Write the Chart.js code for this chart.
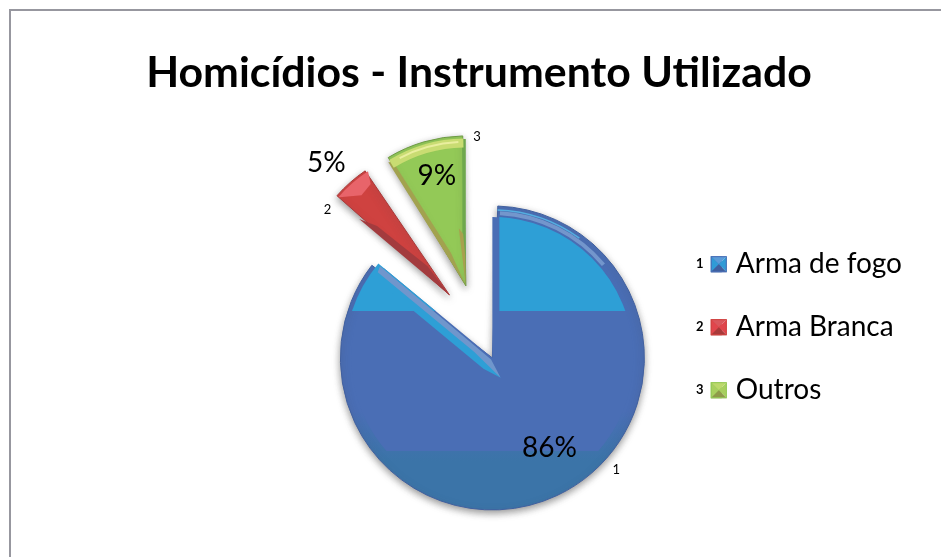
<!DOCTYPE html>
<html lang="pt">
<head>
<meta charset="utf-8">
<title>Homicídios - Instrumento Utilizado</title>
<script src="https://cdn.jsdelivr.net/npm/chart.js@4/dist/chart.umd.min.js"></script>
<style>
  html, body { margin: 0; padding: 0; background: #fff; overflow: hidden; }
  #wrap { position: relative; width: 941px; height: 557px; }
  #frame { position: absolute; left: 9px; top: 9px; right: -10px; bottom: -10px; border: 2.5px solid #97979f; box-sizing: border-box; }
  canvas { position: absolute; left: 0; top: 0; }
</style>
</head>
<body>
<div id="wrap">
  <div id="frame"></div>
  <canvas id="pie" width="941" height="557"></canvas>
</div>
<script>
const chartTitle = 'Homicídios - Instrumento Utilizado';
const categories = ['Arma de fogo', 'Arma Branca', 'Outros'];
const categoryKeys = ['1', '2', '3'];
const shares = [86, 5, 9];

const sliceColors = ['#4a6eb5', '#cf4240', '#93c957'];
const sliceEdges = ['#41609f', '#a83a3a', '#6d9a45'];
const sliceOffsets = [136, 172, 172];  // chart.js draws these at 1/4
const sliceRadii = [152, 150, 150];
// text placement relative to each slice's tip
const percentShift = [[57, 90], [-123, -132], [-29, -110]];
const keyShift = [[124, 112], [-122, -85], [11, -149]];

const FONT = 'Lato, "Open Sans", sans-serif';
const rad = d => d * Math.PI / 180;

// tip of a slice after chart.js moved it out
function tip(arc) {
  const mid = (arc.startAngle + arc.endAngle) / 2;
  const off = arc.options.offset / 4;
  return { x: arc.x + Math.cos(mid) * off, y: arc.y + Math.sin(mid) * off };
}
// point from the tip, angle measured from the slice start/end
function polar(o, a, r) {
  return [o.x + Math.cos(a) * r, o.y + Math.sin(a) * r];
}
function poly(ctx, pts, color) {
  ctx.beginPath();
  pts.forEach((p, i) => i ? ctx.lineTo(p[0], p[1]) : ctx.moveTo(p[0], p[1]));
  ctx.closePath();
  ctx.fillStyle = color;
  ctx.fill();
}
function wedge(ctx, o, r, a0, a1, color) {
  ctx.beginPath();
  ctx.moveTo(o.x, o.y);
  ctx.arc(o.x, o.y, r, a0, a1);
  ctx.closePath();
  ctx.fillStyle = color;
  ctx.fill();
}
function clipWedge(ctx, o, r, a0, a1) {
  ctx.beginPath();
  ctx.moveTo(o.x, o.y);
  ctx.arc(o.x, o.y, r, a0, a1);
  ctx.closePath();
  ctx.clip();
}

function glossBlue(ctx, arc) {
  const o = tip(arc), r = sliceRadii[0];
  const s = arc.startAngle, e = arc.endAngle;

  // middle tone, stops short of the rim and of the lower band
  ctx.save();
  ctx.beginPath();
  ctx.rect(o.x - r, o.y - r, r * 2, r + 93);
  ctx.clip();
  wedge(ctx, o, r - 11, s, e, '#4a6eb5');
  ctx.restore();

  // upper band, right part
  ctx.save();
  ctx.beginPath();
  ctx.rect(o.x + 7, o.y - r, r, r - 47);
  ctx.clip();
  wedge(ctx, o, r - 11, s, s + rad(90), '#2e9fd6');
  ctx.restore();
  // upper band, left part
  ctx.save();
  ctx.beginPath();
  ctx.rect(o.x - r, o.y - r, r, r - 47);
  ctx.clip();
  wedge(ctx, o, r - 4, e - rad(45), e, '#2e9fd6');
  ctx.restore();

  // highlight on the rim
  ctx.save();
  clipWedge(ctx, o, r - 1, s, e);
  ctx.lineCap = 'butt';
  ctx.beginPath();
  ctx.arc(o.x, o.y, r - 7, s + rad(3), s + rad(50));
  ctx.strokeStyle = '#7396cc';
  ctx.lineWidth = 4;
  ctx.stroke();
  ctx.beginPath();
  ctx.arc(o.x, o.y, r - 4, s + rad(2), s + rad(36));
  ctx.strokeStyle = '#54aee0';
  ctx.lineWidth = 1.5;
  ctx.stroke();
  ctx.restore();

  // bevel along the cut, runs a bit past the tip
  ctx.save();
  ctx.translate(o.x, o.y);
  ctx.rotate(e);
  poly(ctx, [[-19, -10], [6, -3], [r - 7, -1], [r - 7, -14], [0, -14]], '#2e9fd6');
  poly(ctx, [[-19, -10], [0, -2], [r - 7, -1], [r - 9, -7], [18, -7]], '#7096cc');
  ctx.restore();
}

function glossRed(ctx, arc) {
  const o = tip(arc), r = sliceRadii[1];
  const s = arc.startAngle, e = arc.endAngle;
  const m = (s + e) / 2;
  // dark underside towards the tip
  poly(ctx, [[o.x, o.y], polar(o, s + rad(0.5), 118), polar(o, s + rad(4), 100), polar(o, m + rad(4), 36)], '#a33b3e');
  // lighter outer end
  ctx.beginPath();
  ctx.moveTo(...polar(o, s + rad(2), r - 3));
  ctx.arc(o.x, o.y, r - 2, s + rad(2), e - rad(1));
  ctx.lineTo(...polar(o, e - rad(3), r - 14));
  ctx.lineTo(...polar(o, m, r - 17));
  ctx.closePath();
  ctx.fillStyle = '#e8646a';
  ctx.fill();
}

function glossGreen(ctx, arc) {
  const o = tip(arc), r = sliceRadii[2];
  const s = arc.startAngle, e = arc.endAngle;
  ctx.save();
  clipWedge(ctx, o, r - 1, s, e);
  ctx.lineCap = 'butt';
  // side strips
  poly(ctx, [[o.x, o.y], polar(o, e, r - 3), polar(o, e - rad(1.4), r - 3), polar(o, e - rad(5), 40)], '#6fa84d');
  poly(ctx, [[o.x, o.y], polar(o, s + rad(0.3), r - 4), polar(o, s + rad(2), r - 6), polar(o, s + rad(8), 36)], '#a2a24f');
  // olive patch near the tip
  poly(ctx, [[o.x, o.y], polar(o, e - rad(7), 58), polar(o, e - rad(3), 52), polar(o, e - rad(1), 28)], '#a8a04e');
  // pale band at the outer end
  ctx.beginPath();
  ctx.arc(o.x, o.y, r - 7, s + rad(1), e - rad(1));
  ctx.strokeStyle = '#c9dc72';
  ctx.lineWidth = 9;
  ctx.stroke();
  ctx.beginPath();
  ctx.arc(o.x, o.y, r - 6, s + rad(5), e - rad(3));
  ctx.strokeStyle = '#e9ee9e';
  ctx.lineWidth = 2;
  ctx.stroke();
  ctx.restore();
}

const sliceGloss = {
  id: 'sliceGloss',
  // chart.js grows a moved slice by offset * fix, take it back so radii stay as read
  afterDatasetUpdate(chart, args) {
    args.meta.data.forEach((arc, i) => {
      const offset = sliceOffsets[i] / 4;
      const fix = 1 - Math.sin(Math.min(Math.PI, arc.circumference || 0));
      arc.outerRadius = sliceRadii[i] - offset * fix;
    });
  },
  beforeDatasetsDraw(chart) {
    const ctx = chart.ctx;
    ctx.save();
    ctx.shadowColor = 'rgba(70,70,70,0.55)';
    ctx.shadowBlur = 7;
    ctx.shadowOffsetY = 3;
  },
  afterDatasetsDraw(chart) {
    const ctx = chart.ctx;
    ctx.restore();
    const arcs = chart.getDatasetMeta(0).data;
    glossBlue(ctx, arcs[0]);
    glossRed(ctx, arcs[1]);
    glossGreen(ctx, arcs[2]);

    ctx.fillStyle = '#000';
    ctx.textAlign = 'center';
    ctx.textBaseline = 'middle';
    arcs.forEach((arc, i) => {
      const o = tip(arc);
      ctx.font = '28px ' + FONT;
      ctx.fillText(shares[i] + '%', o.x + percentShift[i][0], o.y + percentShift[i][1]);
      ctx.font = '13px ' + FONT;
      ctx.fillText(categoryKeys[i], o.x + keyShift[i][0], o.y + keyShift[i][1]);
    });
  },
  afterLayout(chart) {
    // title is centred on the plot frame, not on the legend's leftover space
    chart.titleBlock.left = 17;
    chart.titleBlock.right = 941;
  },
  afterDraw(chart) {
    const ctx = chart.ctx;
    chart.legend.legendHitBoxes.forEach((box, i) => {
      const x = box.left, y = box.top + (box.height - 16) / 2, w = 16, h = 16;
      const c = sliceColors[i], m = [x + w / 2, y + h / 2];
      const shades = [['#5b9bd8', '#d9565c', '#bcd86c'], ['#2f9bd6', '#e0454c', '#a8cf5f'], ['#3f5f9f', '#a83a3a', '#8f9a4a']];
      poly(ctx, [[x, y], [x + w, y], m], shades[0][i]);
      poly(ctx, [[x, y], [x, y + h], m], shades[1][i]);
      poly(ctx, [[x + w, y], [x + w, y + h], m], shades[1][i]);
      poly(ctx, [[x, y + h], [x + w, y + h], m], shades[2][i]);
      ctx.strokeStyle = c;
      ctx.lineWidth = 1;
      ctx.strokeRect(x + 0.5, y + 0.5, w - 1, h - 1);
      ctx.fillStyle = '#000';
      ctx.font = 'bold 13px ' + FONT;
      ctx.textAlign = 'center';
      ctx.textBaseline = 'middle';
      ctx.fillText(categoryKeys[i], x - 11, y + h / 2);
    });
  }
};

function sliceFill(context) {
  const i = context.dataIndex;
  if (i !== 0) return sliceColors[i];
  // rim of the big slice goes from middle blue to the darker lower band
  const chart = context.chart;
  const g = chart.ctx.createLinearGradient(0, 380, 0, 430);
  g.addColorStop(0, '#4a6eb5');
  g.addColorStop(1, '#3b74a8');
  return g;
}

new Chart(document.getElementById('pie'), {
  type: 'pie',
  data: {
    labels: categories,
    datasets: [{
      data: shares,
      backgroundColor: sliceFill,
      borderColor: sliceEdges,
      borderWidth: 1,
      offset: sliceOffsets,
      clip: false
    }]
  },
  plugins: [sliceGloss],
  options: {
    responsive: false,
    animation: false,
    radius: 118,
    layout: { padding: { left: 280, right: 29, bottom: 10, top: 0 } },
    plugins: {
      tooltip: { enabled: false },
      title: {
        display: true,
        text: chartTitle,
        color: '#000',
        font: { family: FONT, size: 42.8, weight: 'bold' },
        padding: { top: 48, bottom: 8 }
      },
      legend: {
        position: 'right',
        fullSize: false,
        labels: {
          boxWidth: 11,
          boxHeight: 16,
          padding: 35,
          color: '#222',
          font: { family: FONT, size: 28 },
          generateLabels: chart => categories.map((name, i) => ({
            text: name,
            fillStyle: sliceColors[i],
            strokeStyle: sliceColors[i],
            lineWidth: 0,
            index: i
          }))
        }
      }
    }
  }
});
</script>
</body>
</html>
